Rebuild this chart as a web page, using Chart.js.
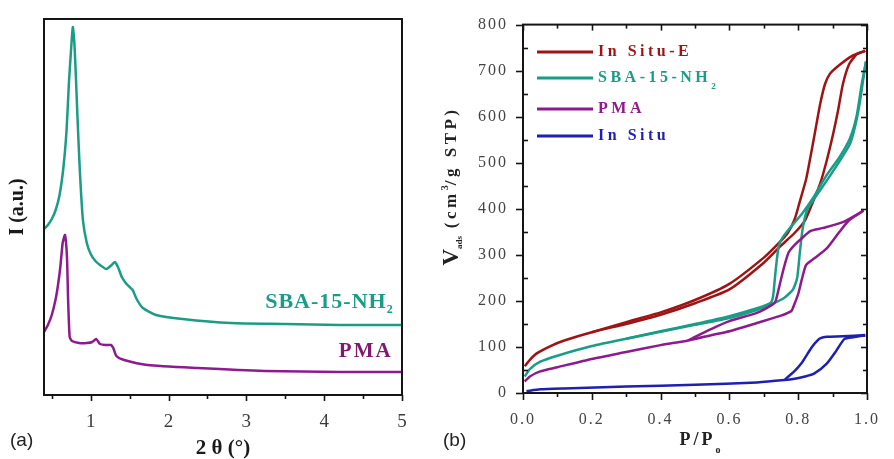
<!DOCTYPE html>
<html>
<head>
<meta charset="utf-8">
<script src="https://cdn.jsdelivr.net/npm/chart.js@4"></script>
<style>
  html, body { margin: 0; padding: 0; background: #fff; }
  #wrap { position: relative; width: 894px; height: 459px; overflow: hidden; }
  #chartA { position: absolute; left: 0; top: 0; }
  #chartB { position: absolute; left: 440px; top: 0; }
</style>
</head>
<body>
<div id="wrap">
  <canvas id="chartA" width="440" height="459"></canvas>
  <canvas id="chartB" width="454" height="459"></canvas>
</div>
<script>
// (a) small-angle XRD, intensity in arbitrary units
const sbaX = [0.40, 0.45, 0.50, 0.55, 0.60, 0.65, 0.69, 0.72, 0.75, 0.77, 0.79, 0.81, 0.83, 0.86, 0.90, 0.95, 1.00, 1.06, 1.12, 1.20, 1.27, 1.31, 1.35, 1.40, 1.45, 1.50, 1.54, 1.59, 1.67, 1.84, 2.18, 2.80, 3.50, 4.20, 5.00];
const sbaI = [166, 170, 176, 185, 200, 228, 265, 312, 348, 368, 352, 318, 278, 225, 175, 152, 141, 134, 130, 126, 130, 133, 128, 118, 112, 108, 105, 96, 87, 80, 76, 72, 71, 70, 70];
const pmaX = [0.40, 0.45, 0.50, 0.55, 0.58, 0.61, 0.64, 0.67, 0.695, 0.71, 0.73, 0.76, 0.85, 0.95, 1.02, 1.07, 1.12, 1.20, 1.26, 1.29, 1.33, 1.43, 1.73, 2.37, 3.23, 4.20, 5.00];
const pmaI = [63, 70, 80, 96, 110, 128, 152, 160, 138, 95, 58, 54, 52, 52, 53, 56, 51, 50, 50, 47, 39, 35, 30, 27, 24, 23, 23];

// (b) N2 isotherms, adsorption and desorption branches
const inSituEAdsP = [0.005, 0.02, 0.04, 0.08, 0.12, 0.2, 0.3, 0.4, 0.5, 0.6, 0.7, 0.75, 0.79, 0.82, 0.84, 0.864, 0.883, 0.902, 0.916, 0.93, 0.948, 0.971, 0.995];
const inSituEAdsV = [58, 72, 86, 102, 114, 132, 150, 170, 195, 225, 283, 320, 348, 375, 410, 455, 505, 564, 614, 671, 714, 736, 743];
const inSituEDesP = [0.995, 0.957, 0.911, 0.892, 0.878, 0.864, 0.85, 0.836, 0.823, 0.804, 0.79, 0.77, 0.744, 0.7, 0.6, 0.5, 0.4, 0.3, 0.2];
const inSituEDesV = [743, 732, 707, 693, 671, 628, 571, 514, 464, 414, 378, 348, 326, 294, 237, 202, 175, 154, 132];

const sbaAdsP = [0.005, 0.02, 0.05, 0.1, 0.2, 0.3, 0.4, 0.5, 0.6, 0.68, 0.72, 0.76, 0.785, 0.797, 0.805, 0.813, 0.827, 0.845, 0.88, 0.92, 0.95, 0.965, 0.978, 0.988, 0.997];
const sbaAdsV = [36, 52, 68, 81, 102, 118, 133, 148, 163, 180, 192, 207, 225, 250, 307, 357, 400, 420, 458, 503, 540, 578, 626, 676, 720];
const sbaDesP = [0.997, 0.985, 0.97, 0.95, 0.92, 0.88, 0.846, 0.81, 0.78, 0.755, 0.744, 0.738, 0.733, 0.727, 0.72, 0.68, 0.6, 0.5, 0.4, 0.3];
const sbaDesV = [720, 672, 602, 552, 512, 470, 427, 388, 362, 338, 321, 290, 255, 210, 196, 184, 167, 150, 134, 118];

const pmaAdsP = [0.005, 0.02, 0.05, 0.1, 0.2, 0.3, 0.4, 0.48, 0.55, 0.6, 0.68, 0.75, 0.78, 0.79, 0.8, 0.81, 0.823, 0.846, 0.883, 0.92, 0.948, 0.99];
const pmaAdsV = [25, 36, 47, 56, 74, 89, 104, 114, 126, 134, 152, 168, 178, 195, 215, 245, 278, 292, 314, 350, 375, 396];
const pmaDesP = [0.99, 0.93, 0.87, 0.836, 0.809, 0.785, 0.772, 0.758, 0.744, 0.734, 0.725, 0.68, 0.6, 0.55, 0.5, 0.48];
const pmaDesV = [396, 371, 358, 352, 335, 318, 305, 271, 228, 199, 192, 174, 156, 140, 122, 114];

const inSituAdsP = [0.01, 0.05, 0.12, 0.3, 0.5, 0.68, 0.76, 0.79, 0.82, 0.846, 0.883, 0.911, 0.934, 0.96, 0.995];
const inSituAdsV = [4, 8, 10, 14, 18, 23, 28, 31, 36, 42, 64, 92, 117, 121, 125];
const inSituDesP = [0.995, 0.93, 0.883, 0.865, 0.855, 0.84, 0.827, 0.81, 0.79, 0.77, 0.76];
const inSituDesV = [126, 123, 122, 119, 113, 100, 85, 65, 48, 35, 28];

const legendNames = ['In Situ-E', 'SBA-15-NH', 'PMA', 'In Situ'];

const RED = '#9e1414', TEAL = '#1b9c86', PURPLE = '#8e1b8e', BLUE = '#1f1fb2';
const SERIF = '"Liberation Serif", "Times New Roman", serif';
const SANS = '"Liberation Sans", Arial, sans-serif';

function pts(xs, ys) {
    return xs.map((x, i) => ({ x: x, y: ys[i] }));
}

function line(xs, ys, color) {
    return {
        data: pts(xs, ys),
        showLine: true,
        borderColor: color,
        borderWidth: 2.5,
        pointRadius: 0,
        tension: 0.2,
        fill: false
    };
}

// text made of runs (for sub/superscripts)
function drawRuns(ctx, runs, x, y, rot, align) {
    ctx.save();
    ctx.translate(x, y);
    ctx.rotate(rot || 0);
    ctx.textBaseline = 'middle';
    ctx.textAlign = 'left';
    let total = 0;
    const widths = runs.map(r => {
        ctx.font = r.font;
        ctx.letterSpacing = r.ls || '0px';
        const w = ctx.measureText(r.t).width;
        total += w;
        return w;
    });
    let cx = align === 'left' ? 0 : align === 'right' ? -total : -total / 2;
    runs.forEach((r, i) => {
        ctx.font = r.font;
        ctx.letterSpacing = r.ls || '0px';
        ctx.fillStyle = r.color || '#222';
        ctx.fillText(r.t, cx, r.dy || 0);
        cx += widths[i];
    });
    ctx.restore();
}

// frame + tick marks; len > 0 outward, < 0 inward
function framePlugin(tickSpecs, extra) {
    return {
        id: 'frame',
        beforeDraw(chart) {
            chart.ctx.letterSpacing = extra.tickSpacing || '0px';
        },
        beforeDatasetsDraw(chart) {
            chart.ctx.letterSpacing = '0px';
        },
        afterDraw(chart) {
            const { ctx, chartArea: a, scales } = chart;
            ctx.save();
            ctx.strokeStyle = '#151515';
            ctx.lineWidth = 1.6;
            tickSpecs.forEach(t => {
                const sc = scales[t.axis];
                for (let v = t.from; v <= t.to + 1e-9; v += t.step) {
                    const p = Math.round(sc.getPixelForValue(v)) + 0.5;
                    ctx.beginPath();
                    if (t.side === 'bottom') { ctx.moveTo(p, a.bottom); ctx.lineTo(p, a.bottom + t.len); }
                    if (t.side === 'top') { ctx.moveTo(p, a.top); ctx.lineTo(p, a.top - t.len); }
                    if (t.side === 'left') { ctx.moveTo(a.left, p); ctx.lineTo(a.left - t.len, p); }
                    if (t.side === 'right') { ctx.moveTo(a.right, p); ctx.lineTo(a.right + t.len, p); }
                    ctx.stroke();
                }
            });
            ctx.lineWidth = 2;
            ctx.strokeRect(a.left, a.top, a.right - a.left, a.bottom - a.top);
            ctx.restore();
            extra.draw(chart);
        }
    };
}

// ---------- (a) ----------
const chartA = new Chart(document.getElementById('chartA'), {
    type: 'scatter',
    data: {
        datasets: [line(sbaX, sbaI, TEAL), line(pmaX, pmaI, PURPLE)]
    },
    options: {
        responsive: false,
        animation: false,
        layout: { padding: { top: 19, right: 38, left: 0, bottom: 0 } },
        plugins: { legend: { display: false }, tooltip: { enabled: false } },
        scales: {
            x: {
                type: 'linear', min: 0.4, max: 5,
                afterFit(s) { s.height = 64; },
                grid: { display: false, drawTicks: false },
                border: { display: false },
                ticks: {
                    stepSize: 1, includeBounds: false, padding: 16,
                    color: '#3c3c3c', font: { family: SERIF, size: 19 },
                    callback: v => Number.isInteger(v) ? v : ''
                },
                title: {
                    display: true, text: '2 θ (°)', color: '#1a1a1a',
                    font: { family: SERIF, size: 21, weight: 'bold' },
                    padding: { top: 0, bottom: -2 }
                }
            },
            y: {
                min: 0, max: 376,
                afterFit(s) { s.width = 44; },
                grid: { display: false, drawTicks: false },
                border: { display: false },
                ticks: { display: false },
                title: {
                    display: true, text: 'I (a.u.)', color: '#1a1a1a',
                    font: { family: SERIF, size: 20, weight: 'bold' },
                    padding: { top: 6, bottom: 0 }
                }
            }
        }
    },
    plugins: [framePlugin([
        { axis: 'x', side: 'bottom', from: 1, to: 5, step: 1, len: 6 },
        { axis: 'x', side: 'bottom', from: 0.5, to: 4.5, step: 1, len: 4 }
    ], {
        draw(chart) {
            const { ctx, scales } = chart;
            const xr = scales.x.getPixelForValue(4.88);
            drawRuns(ctx, [
                { t: 'SBA-15-NH', font: 'bold 22px ' + SERIF, ls: '1px', color: TEAL },
                { t: '2', font: 'bold 12px ' + SERIF, dy: 8, color: TEAL }
            ], xr, scales.y.getPixelForValue(93), 0, 'right');
            drawRuns(ctx, [
                { t: 'PMA', font: 'bold 21px ' + SERIF, ls: '2px', color: '#7e1a72' }
            ], xr, scales.y.getPixelForValue(43), 0, 'right');
            drawRuns(ctx, [{ t: '(a)', font: '19px ' + SANS, color: '#222' }], 10, 441, 0, 'left');
        }
    })]
});

// ---------- (b) ----------
const colorsB = [RED, TEAL, PURPLE, BLUE];

const chartB = new Chart(document.getElementById('chartB'), {
    type: 'scatter',
    data: {
        datasets: [
            line(inSituAdsP, inSituAdsV, BLUE), line(inSituDesP, inSituDesV, BLUE),
            line(pmaAdsP, pmaAdsV, PURPLE), line(pmaDesP, pmaDesV, PURPLE),
            line(sbaAdsP, sbaAdsV, TEAL), line(sbaDesP, sbaDesV, TEAL),
            line(inSituEAdsP, inSituEAdsV, RED), line(inSituEDesP, inSituEDesV, RED)
        ]
    },
    options: {
        responsive: false,
        animation: false,
        layout: { padding: { top: 20, right: 12, left: 0, bottom: 0 } },
        plugins: { legend: { display: false }, tooltip: { enabled: false } },
        scales: {
            x: {
                type: 'linear', min: 0, max: 1,
                afterFit(s) { s.height = 66; },
                grid: { display: false, drawTicks: false },
                border: { display: false },
                ticks: {
                    stepSize: 0.2, padding: 17,
                    color: '#444', font: { family: SERIF, size: 16 },
                    callback: v => v.toFixed(1)
                }
            },
            y: {
                min: 0, max: 800,
                afterFit(s) { s.width = 83; },
                grid: { display: false, drawTicks: false },
                border: { display: false },
                ticks: {
                    stepSize: 100, padding: 15,
                    color: '#444', font: { family: SERIF, size: 16 }
                }
            }
        }
    },
    plugins: [framePlugin([
        { axis: 'x', side: 'bottom', from: 0, to: 1, step: 0.2, len: 7 },
        { axis: 'x', side: 'bottom', from: 0.1, to: 0.9, step: 0.2, len: 4 },
        { axis: 'x', side: 'top', from: 0, to: 1, step: 0.2, len: -6 },
        { axis: 'x', side: 'top', from: 0.1, to: 0.9, step: 0.2, len: -4 },
        { axis: 'y', side: 'left', from: 0, to: 800, step: 100, len: 7 },
        { axis: 'y', side: 'left', from: 50, to: 750, step: 100, len: -5 },
        { axis: 'y', side: 'right', from: 0, to: 800, step: 100, len: -6 },
        { axis: 'y', side: 'right', from: 50, to: 750, step: 100, len: -4 }
    ], {
        tickSpacing: '2px',
        draw(chart) {
            const { ctx } = chart;
            // legend
            const rows = [52, 78, 109, 136];
            rows.forEach((y, i) => {
                ctx.save();
                ctx.strokeStyle = colorsB[i];
                ctx.lineWidth = 3;
                ctx.beginPath();
                ctx.moveTo(97, y);
                ctx.lineTo(153, y);
                ctx.stroke();
                ctx.restore();
                const runs = [{ t: legendNames[i], font: 'bold 16px ' + SERIF, ls: '3.5px', color: colorsB[i] }];
                if (i === 1) runs.push({ t: '2', font: 'bold 9px ' + SERIF, dy: 9, color: colorsB[i] });
                drawRuns(ctx, runs, 158, y, 0, 'left');
            });
            // axis titles
            drawRuns(ctx, [
                { t: 'P/P', font: 'bold 18px ' + SERIF, ls: '3px', color: '#222' },
                { t: 'o', font: 'bold 10px ' + SERIF, dy: 10, color: '#222' }
            ], 260, 440, 0, 'center');
            drawRuns(ctx, [
                { t: 'V', font: 'bold 23px ' + SERIF, color: '#222' },
                { t: 'ads', font: 'bold 9px ' + SERIF, dy: 8, color: '#222' },
                { t: ' (cm', font: 'bold 17px ' + SERIF, ls: '3.5px', color: '#222' },
                { t: '3', font: 'bold 10px ' + SERIF, dy: -7, color: '#222' },
                { t: '/g STP)', font: 'bold 17px ' + SERIF, ls: '3.5px', color: '#222' }
            ], 12, 186, -Math.PI / 2, 'center');
            drawRuns(ctx, [{ t: '(b)', font: '19px ' + SANS, color: '#222' }], 3, 441, 0, 'left');
        }
    })]
});
</script>
</body>
</html>
